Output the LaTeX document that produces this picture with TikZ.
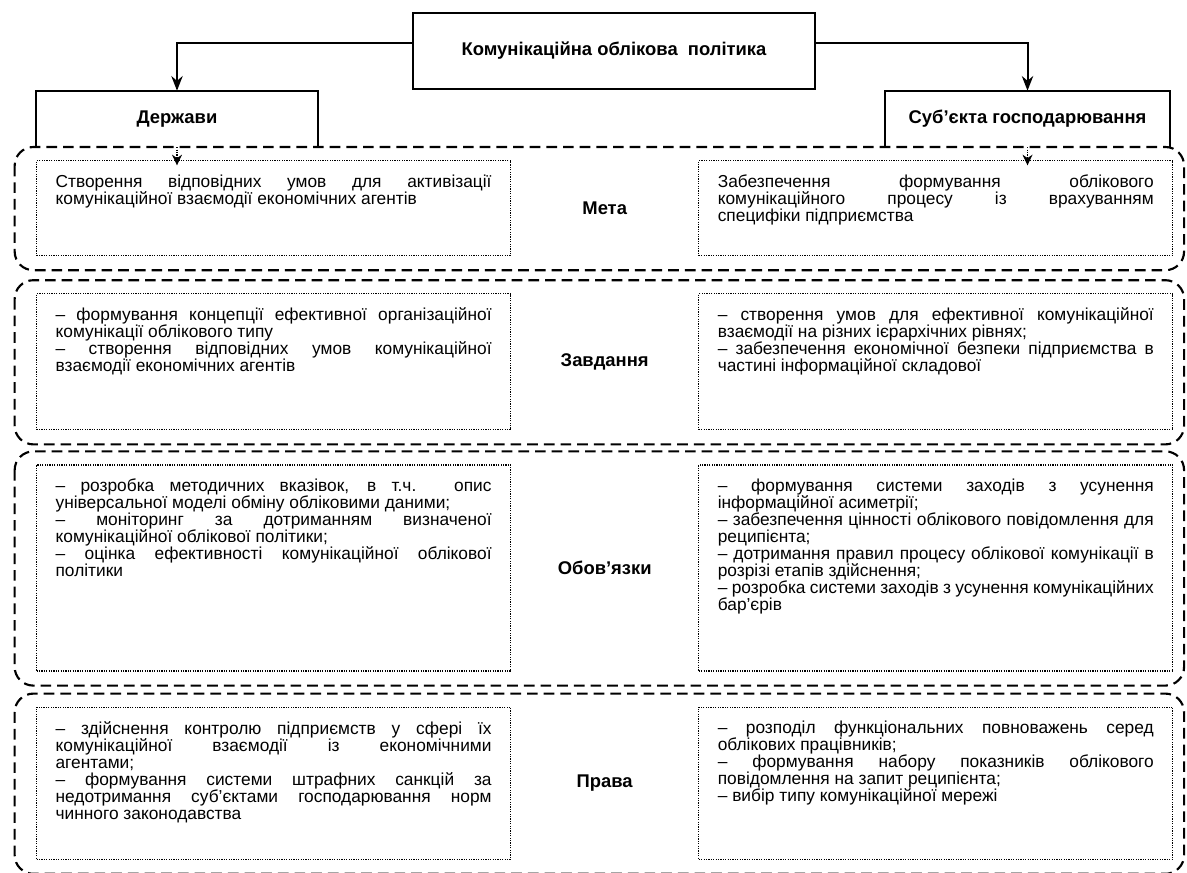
\documentclass[tikz,border=0pt]{standalone}
\usepackage{fontspec}
\setmainfont{Liberation Sans}[WordSpace={1,1,1.6}]
\usetikzlibrary{positioning, arrows.meta}
\hyphenpenalty=10000
\tolerance=10000
\newcommand{\cellw}{327pt}
\newcommand{\celltxt}[2]{\parbox[c][#1][t]{\cellw}{#2}}

\begin{document}
\begin{tikzpicture}[x=0.75pt, y=-0.75pt,
    font=\fontsize{13}{12.75}\selectfont,
    frame/.style={line width=1.5pt},
    topbox/.style={draw, frame, minimum width=301.5pt, minimum height=57pt, font=\fontsize{13.8}{14}\selectfont\bfseries},
    hbox/.style={minimum width=#1, minimum height=42pt, font=\fontsize{13.8}{14}\selectfont\bfseries},
    cell/.style={draw, line width=0.9pt, dash pattern=on 0.9pt off 0.9pt, inner xsep=14.25pt, inner ysep=10.5pt, anchor=north west},
    grp/.style={line width=1.6pt, dash pattern=on 8pt off 4.5pt, rounded corners=14pt},
    lbl/.style={font=\fontsize{13.8}{14}\selectfont\bfseries},
    arr/.style={frame, -{Stealth[length=11pt, width=8.5pt]}},
    tip/.style={line width=0.9pt, dash pattern=on 0.9pt off 0.9pt, -{Stealth[length=8pt, width=7.5pt]}},
]
\useasboundingbox (0,0) rectangle (1187,873);

% heads
\node[topbox] (pol) at (614,51) {Комунікаційна облікова\ \ політика};
\node[hbox=211.5pt] (state) at (177,119) {Держави};
\node[hbox=213.75pt] (firm) at (1027.5,119) {Суб’єкта господарювання};
\draw[frame] (state.south west) |- (state.north east) -- (state.south east);
\draw[frame] (firm.south west) |- (firm.north east) -- (firm.south east);
\draw[arr] ([yshift=6pt]pol.west) -| (state.north);
\draw[arr] ([yshift=6pt]pol.east) -| (firm.north);

% rows
\node[cell] (goalL) at (36,160) {\celltxt{50.25pt}{Створення відповідних умов для активізації\linebreak комунікаційної взаємодії економічних агентів}};
\node[cell, right=140.25pt of goalL] (goalR) {\celltxt{50.25pt}{Забезпечення формування облікового\linebreak комунікаційного процесу із врахуванням\linebreak специфіки підприємства}};

\node[cell, below=27.75pt of goalL] (taskL) {\celltxt{81pt}{– формування концепції ефективної організаційної\linebreak комунікації облікового типу\par – створення відповідних умов комунікаційної\linebreak взаємодії економічних агентів}};
\node[cell, right=140.25pt of taskL] (taskR) {\celltxt{81pt}{– створення умов для ефективної комунікаційної\linebreak взаємодії на різних ієрархічних рівнях;\par – забезпечення економічної безпеки підприємства в\linebreak частині інформаційної складової}};

\node[cell, below=25.5pt of taskL] (dutyL) {\celltxt{133.5pt}{– розробка методичних вказівок, в т.ч. опис\linebreak універсальної моделі обміну обліковими даними;\par – моніторинг за дотриманням визначеної\linebreak комунікаційної облікової політики;\par – оцінка ефективності комунікаційної облікової\linebreak політики}};
\node[cell, right=140.25pt of dutyL] (dutyR) {\celltxt{133.5pt}{– формування системи заходів з усунення\linebreak інформаційної асиметрії;\par – забезпечення цінності облікового повідомлення для\linebreak реципієнта;\par – дотримання правил процесу облікової комунікації в\linebreak розрізі етапів здійснення;\par – розробка системи заходів з усунення комунікаційних\linebreak бар’єрів}};

\node[cell, below=26.25pt of dutyL] (rightsL) {\celltxt{93pt}{– здійснення контролю підприємств у сфері їх\linebreak комунікаційної взаємодії із економічними\linebreak агентами;\par – формування системи штрафних санкцій за\linebreak недотримання суб’єктами господарювання норм\linebreak чинного законодавства}};
\node[cell, right=140.25pt of rightsL] (rightsR) {\celltxt{93pt}{– розподіл функціональних повноважень серед\linebreak облікових працівників;\par – формування набору показників облікового\linebreak повідомлення на запит реципієнта;\par – вибір типу комунікаційної мережі}};

\path (goalL) -- node[lbl] (goal) {Мета} (goalR);
\path (taskL) -- node[lbl] (task) {Завдання} (taskR);
\path (dutyL) -- node[lbl] (duty) {Обов’язки} (dutyR);
\path (rightsL) -- node[lbl] (rights) {Права} (rightsR);

% dashed groups
\foreach \l/\r in {goalL/goalR, taskL/taskR, dutyL/dutyR, rightsL/rightsR}
  \draw[grp] ([shift={(-16pt,9.75pt)}]\l.north west) rectangle ([shift={(8pt,-10.5pt)}]\r.south east);

\draw[tip] (state.south) -- ([yshift=-4pt]state.south |- goalL.north);
\draw[tip] (firm.south) -- ([yshift=-4pt]firm.south |- goalR.north);
\end{tikzpicture}
\end{document}
